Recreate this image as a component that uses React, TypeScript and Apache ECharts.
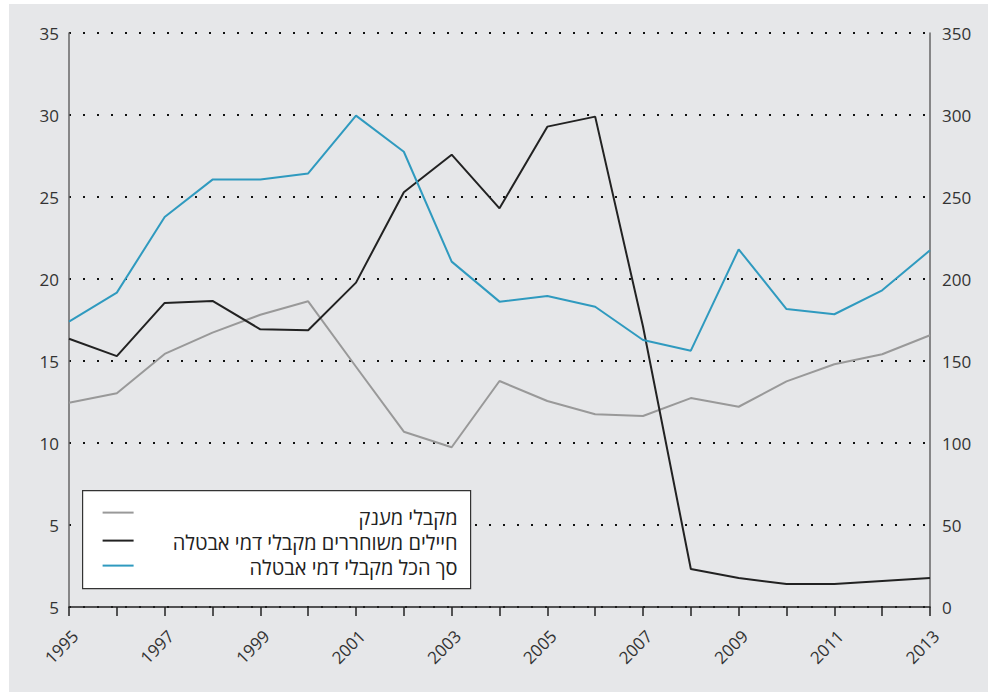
import React, { useEffect, useRef } from "react";
import * as echarts from "echarts";

const years = ["1995","1996","1997","1998","1999","2000","2001","2002","2003","2004","2005","2006","2007","2008","2009","2010","2011","2012","2013"];
const grantRecipients = [12.46,13.03,15.43,16.73,17.82,18.64,14.65,10.69,9.74,13.78,12.56,11.75,11.65,12.74,12.21,13.76,14.8,15.41,16.57];
const dischargedSoldiers = [16.36,15.3,18.54,18.66,16.93,16.87,19.78,25.29,27.58,24.31,29.29,29.9,17.1,2.32,1.77,1.4,1.4,1.59,1.77];
const totalUnemployment = [17.4,19.17,23.78,26.06,26.06,26.44,29.96,27.76,21.06,18.62,18.96,18.31,16.28,15.63,21.81,18.17,17.85,19.31,21.75];
const leftTickLabels = ["5","5","10","15","20","25","30","35"];
const seriesNames = ["מקבלי מענק","חיילים משוחררים מקבלי דמי אבטלה","סך הכל מקבלי דמי אבטלה"];
const seriesColors = ["#999999","#222222","#2f9abf"];

const FONT = '"Open Sans", "DejaVu Sans", sans-serif';

export default function App() {
  const ref = useRef<HTMLDivElement>(null);
  useEffect(() => {
    if (!ref.current) return;
    const chart = echarts.init(ref.current, null, { renderer: "svg" });
    const dataSets = [grantRecipients, dischargedSoldiers, totalUnemployment];
    const legendX = 73, legendY = 486;
    const lineYs = [22, 50, 75];
    const textYs = [27, 52, 77];
    chart.setOption({
      animation: false,
      backgroundColor: "#e6e7e9",
      textStyle: { fontFamily: FONT },
      grid: { left: 60, right: 58, top: 29, bottom: 85 },
      xAxis: {
        type: "category",
        data: years,
        boundaryGap: false,
        axisLine: { lineStyle: { color: "#222", width: 1.5 } },
        axisTick: { show: true, interval: 0, length: 9, lineStyle: { color: "#222", width: 1.5 } },
        axisLabel: {
          interval: 1,
          rotate: 45,
          fontSize: 17,
          color: "#333",
          margin: 20,
          verticalAlign: "top",
          fontFamily: FONT,
        },
        splitLine: { show: false },
      },
      yAxis: [
        {
          type: "value",
          min: 0,
          max: 35,
          interval: 5,
          position: "left",
          axisLine: { show: true, lineStyle: { color: "#666", width: 1.5 } },
          axisTick: { show: false },
          axisLabel: {
            fontSize: 17,
            color: "#333",
            margin: 10,
            fontFamily: FONT,
            formatter: (v: number) => leftTickLabels[Math.round(v / 5)],
          },
          splitLine: { show: true, lineStyle: { color: "#111", type: [2, 12], width: 2.2 } },
        },
        {
          type: "value",
          min: 0,
          max: 350,
          interval: 50,
          position: "right",
          axisLine: { show: true, lineStyle: { color: "#666", width: 1.5 } },
          axisTick: { show: false },
          axisLabel: { fontSize: 17, color: "#333", margin: 12, fontFamily: FONT },
          splitLine: { show: false },
        },
      ],
      series: dataSets.map((d, i) => ({
        name: seriesNames[i],
        type: "line",
        data: d,
        yAxisIndex: 0,
        symbol: "none",
        lineStyle: { color: seriesColors[i], width: 2 },
        itemStyle: { color: seriesColors[i] },
        z: i === 0 ? 2 : 3,
      })),
      graphic: [
        {
          type: "group",
          left: legendX,
          top: legendY,
          z: 100,
          children: [
            {
              type: "rect",
              z: 100,
              shape: { x: 0, y: 0, width: 388, height: 98 },
              style: { fill: "#ffffff", stroke: "#333", lineWidth: 1.2 },
            },
            ...seriesNames.flatMap((n, i) => [
              {
                type: "line",
                z: 101,
                shape: { x1: 20, y1: lineYs[i], x2: 51, y2: lineYs[i] },
                style: { stroke: seriesColors[i], lineWidth: 2 },
              },
              {
                type: "text",
                z: 101,
                x: 375,
                y: textYs[i],
                style: {
                  text: n,
                  align: "right",
                  verticalAlign: "middle",
                  fontSize: 20,
                  lineHeight: 22,
                  fill: "#222",
                  fontFamily: FONT,
                },
              },
            ]),
          ],
        },
      ],
    });
    return () => chart.dispose();
  }, []);
  return (
    <div
      ref={ref}
      style={{ position: "absolute", left: 9, top: 4, width: 979, height: 688 }}
    />
  );
}
